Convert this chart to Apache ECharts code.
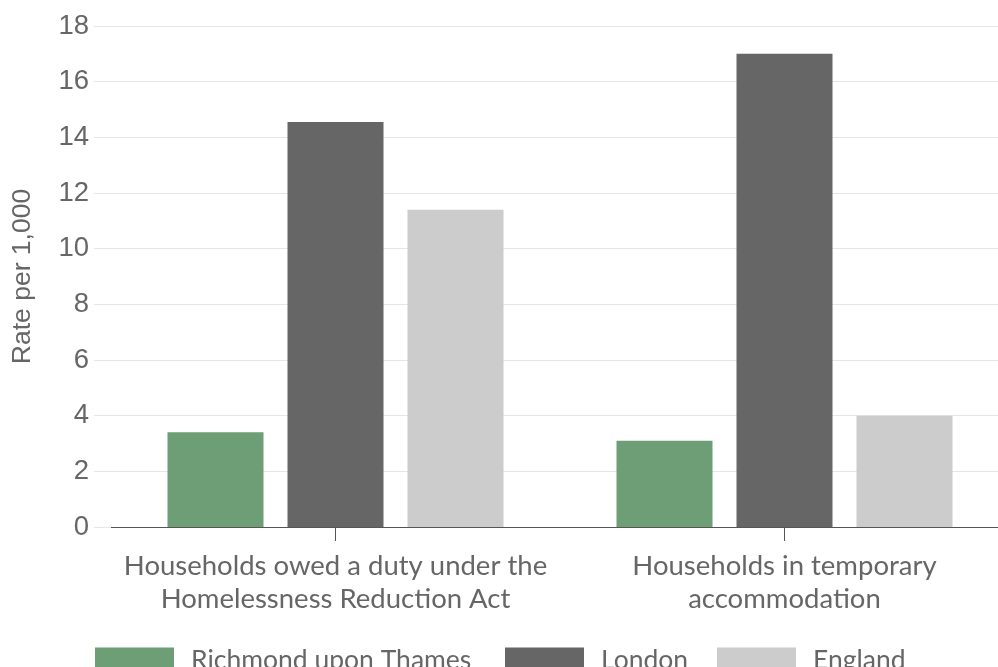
<!DOCTYPE html>
<html>
<head>
<meta charset="utf-8">
<script src="https://cdn.jsdelivr.net/npm/echarts@6/dist/echarts.min.js"></script>
<style>
html,body{margin:0;padding:0;background:#fff;overflow:hidden;width:998px;height:667px;}
#main{width:1009px;height:667px;}
</style>
</head>
<body>
<div id="main"></div>
<script>
const categories = ['Households owed a duty under the\nHomelessness Reduction Act', 'Households in temporary\naccommodation'];
const seriesNames = ['Richmond upon Thames', 'London', 'England'];
const richmond = [3.4, 3.1];
const london = [14.55, 17.0];
const england = [11.4, 4.0];
const colors = ['#6d9e75', '#666666', '#cccccc'];

const chart = echarts.init(document.getElementById('main'));
const font = 'Lato';
const numFont = 'Liberation Sans';
const legendLefts = [90, 500, 712];
const legends = seriesNames.map((n, i) => ({
  top: 642,
  left: legendLefts[i],
  itemWidth: 79,
  itemHeight: 26,
  icon: 'rect',
  textStyle: { fontFamily: font, fontSize: 26.5, color: '#666', padding: [0, 0, 0, 12] },
  data: [n]
}));
chart.setOption({
  animation: false,
  textStyle: { fontFamily: font },
  grid: { left: 111, right: 0, top: 26, bottom: 140 },
  legend: legends,
  xAxis: {
    type: 'category',
    data: categories,
    axisLine: { lineStyle: { color: '#555', width: 1 } },
    axisTick: { show: true, interval: 0, alignWithLabel: true, length: 14, lineStyle: { color: '#555', width: 1 } },
    axisLabel: { interval: 0, fontFamily: font, fontSize: 27.5, color: '#666', lineHeight: 33, margin: 23 }
  },
  yAxis: {
    type: 'value',
    min: 0, max: 18, interval: 2,
    name: 'Rate per 1,000',
    nameLocation: 'middle',
    nameRotate: 90,
    nameGap: 75,
    nameTextStyle: { fontFamily: numFont, fontSize: 26.5, color: '#666' },
    axisLine: { show: false },
    axisTick: { show: true, length: 17, lineStyle: { color: '#e6e6e6' } },
    splitLine: { lineStyle: { color: '#e6e6e6' } },
    axisLabel: { fontFamily: numFont, fontSize: 27.5, color: '#666', margin: 22 }
  },
  series: [
    { name: seriesNames[0], type: 'bar', data: richmond, barWidth: 96, barGap: '25%', itemStyle: { color: colors[0] } },
    { name: seriesNames[1], type: 'bar', data: london, barWidth: 96, barGap: '25%', itemStyle: { color: colors[1] } },
    { name: seriesNames[2], type: 'bar', data: england, barWidth: 96, barGap: '25%', itemStyle: { color: colors[2] } }
  ]
});
</script>
</body>
</html>
